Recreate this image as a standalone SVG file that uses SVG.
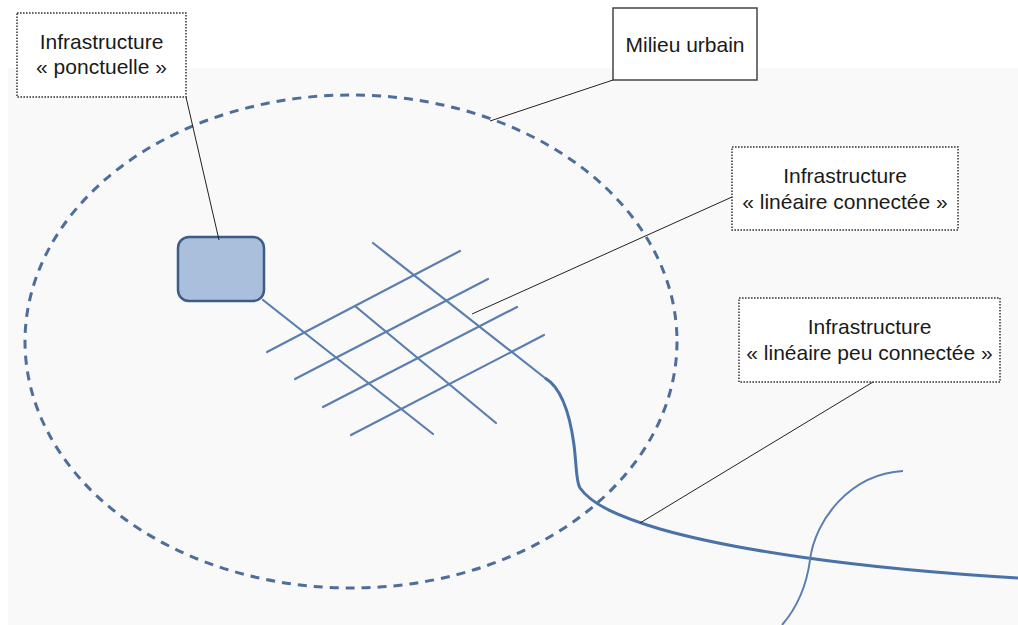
<svg xmlns="http://www.w3.org/2000/svg" width="1018" height="625" viewBox="0 0 1018 625">
<style>
.lbl{fill:#fff;stroke:#333;stroke-width:1.5;stroke-dasharray:1.6 1.4}
.lblsolid{fill:#fff;stroke:#444;stroke-width:1.5}
.t{font-family:"Liberation Sans",Arial,sans-serif;font-size:21px;fill:#1a1a1a;text-anchor:middle}
.leader{stroke:#222;stroke-width:1;fill:none}
.grid{stroke:#5a7eae;stroke-width:2.2;fill:none;stroke-linecap:round}
</style>
<rect x="0" y="0" width="1018" height="625" fill="#ffffff"/>
<rect x="8" y="68" width="1010" height="557" fill="#f9f9fa"/>

<g id="milieu-urbain-zone">
<ellipse cx="351" cy="341.5" rx="326" ry="246.5" fill="none" stroke="#4d6e99" stroke-width="3" stroke-dasharray="9 7"/>
</g>

<g id="grid">
<line class="grid" x1="263" y1="300" x2="433" y2="434"/>
<line class="grid" x1="355" y1="306" x2="496" y2="423"/>
<line class="grid" x1="373" y1="243" x2="545" y2="378"/>
<line class="grid" x1="267" y1="352" x2="460" y2="251"/>
<line class="grid" x1="295" y1="379" x2="488" y2="279"/>
<line class="grid" x1="323" y1="407" x2="517" y2="307"/>
<line class="grid" x1="351" y1="435" x2="544" y2="335"/>
</g>

<g id="route">
<path d="M545,378 C562,388 570,415 574,445 C577,470 576,482 580,488 C592,505 620,517 660,529 C730,549 850,568 1018,578" fill="none" stroke="#4a72a6" stroke-width="3"/>
<path d="M903,471 C850,474 815,520 810,560 C806,590 795,610 782,625" fill="none" stroke="#5a7eae" stroke-width="2"/>
</g>

<g id="ponctuelle-shape">
<rect x="178" y="237" width="86" height="64" rx="11" ry="11" fill="#a9bfdb" stroke="#3d5d88" stroke-width="2.5"/>
</g>

<g id="connectors">
<line class="leader" x1="186" y1="97" x2="219" y2="240"/>
<line class="leader" x1="613" y1="80" x2="490" y2="121"/>
<line class="leader" x1="732" y1="197" x2="472" y2="314"/>
<line class="leader" x1="873" y1="382" x2="640" y2="523"/>
</g>

<g id="label-ponctuelle">
<rect class="lbl" x="17" y="13" width="169" height="84"/>
<text class="t" x="101.5" y="49">Infrastructure</text>
<text class="t" x="101.5" y="74">« ponctuelle »</text>
</g>

<g id="label-milieu-urbain">
<rect class="lblsolid" x="613" y="8" width="144" height="72"/>
<text class="t" x="685" y="52">Milieu urbain</text>
</g>

<g id="label-lineaire-connectee">
<rect class="lbl" x="732" y="147" width="226" height="83"/>
<text class="t" x="845" y="183">Infrastructure</text>
<text class="t" x="845" y="209">« linéaire connectée »</text>
</g>

<g id="label-lineaire-peu-connectee">
<rect class="lbl" x="739" y="298" width="261" height="84"/>
<text class="t" x="869.5" y="334">Infrastructure</text>
<text class="t" x="869.5" y="360">« linéaire peu connectée »</text>
</g>
</svg>
